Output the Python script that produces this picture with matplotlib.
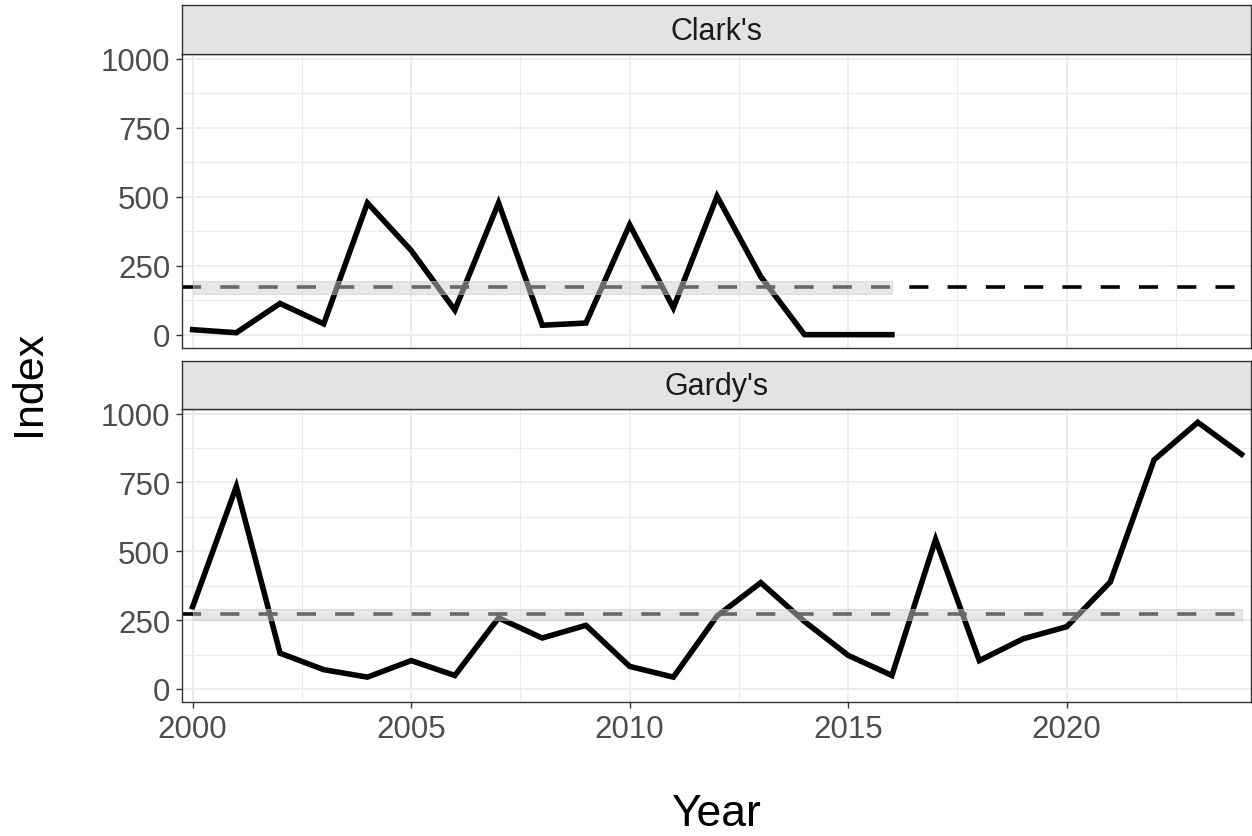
import matplotlib.pyplot as plt
import numpy as np

plt.rcParams['font.family'] = ['Liberation Sans', 'DejaVu Sans']

# data
clark_years = [2000, 2001, 2002, 2003, 2004, 2005, 2006, 2007, 2008, 2009,
               2010, 2011, 2012, 2013, 2014, 2015, 2016]
clark_index = [18, 7, 113, 39, 477, 305, 89, 477, 34, 42,
               398, 97, 501, 210, 0, 0, 0]

gardy_years = [2000, 2001, 2002, 2003, 2004, 2005, 2006, 2007, 2008, 2009,
               2010, 2011, 2012, 2013, 2014, 2015, 2016, 2017, 2018, 2019,
               2020, 2021, 2022, 2023, 2024]
gardy_index = [298, 735, 130, 70, 43, 103, 49, 258, 185, 231,
               82, 43, 265, 386, 245, 122, 49, 543, 103, 182,
               226, 389, 832, 968, 852]

panel_names = ["Clark's", "Gardy's"]
mean_index = [171, 271]
band_low = [146, 250]
band_high = [195, 291]

x_ticks = [2000, 2005, 2010, 2015, 2020]
y_ticks = [0, 250, 500, 750, 1000]

W, H = 1252, 837
fig = plt.figure(figsize=(W / 100, H / 100), dpi=100)

# panel boxes in pixels: (top, bottom) of panel and strip top
left_px, right_px = 181.7, 1250.7
panels_px = [(55, 349, 6), (410, 703.3, 361.7)]

series = [(clark_years, clark_index), (gardy_years, gardy_index)]

for i, (top, bot, strip_top) in enumerate(panels_px):
    ax = fig.add_axes([left_px / W, 1 - bot / H, (right_px - left_px) / W, (bot - top) / H])
    yrs, vals = series[i]

    ax.set_xlim(1999.75, 2024.21)
    ax.set_ylim(-48.4, 1016.4)

    ax.set_xticks(x_ticks)
    ax.set_xticks(np.arange(2002.5, 2024, 5), minor=True)
    ax.set_yticks(y_ticks)
    ax.set_yticks([125, 375, 625, 875], minor=True)
    ax.grid(which='major', color='#ebebeb', lw=1.3)
    ax.grid(which='minor', color='#ebebeb', lw=0.8)
    ax.set_axisbelow(True)

    ax.axhline(mean_index[i], color='black', lw=2.6, dashes=(5.3, 5.3), zorder=2)
    ax.plot(yrs, vals, color='black', lw=4.0, solid_joinstyle='miter', zorder=3)
    ax.fill_between([yrs[0], yrs[-1]], band_low[i], band_high[i],
                    facecolor='#d0d0d0', alpha=0.5, edgecolor='#c8c8c8', lw=0.8, zorder=4)

    for s in ax.spines.values():
        s.set_color('#333333')
        s.set_linewidth(1.0)

    ax.tick_params(which='major', length=4.3, width=1.0, color='#333333',
                   labelsize=22.5, labelcolor='#4d4d4d', pad=4)
    ax.tick_params(which='minor', length=0)
    if i == 0:
        ax.tick_params(axis='x', labelbottom=False, length=0)

    # facet strip
    sax = fig.add_axes([left_px / W, 1 - top / H, (right_px - left_px) / W, (top - strip_top) / H])
    sax.set_facecolor('#e3e3e3')
    sax.set_xticks([])
    sax.set_yticks([])
    for s in sax.spines.values():
        s.set_color('#333333')
        s.set_linewidth(1.0)
    sax.text(0.5, 0.47, panel_names[i], ha='center', va='center',
             fontsize=22, color='#1a1a1a', transform=sax.transAxes)

fig.text(29 / W, 1 - 383 / H, 'Index', rotation=90, ha='center', va='center', fontsize=31)
fig.text(716 / W, 1 - 815 / H, 'Year', ha='center', va='center', fontsize=32)

fig.savefig('out.png', dpi=100)
